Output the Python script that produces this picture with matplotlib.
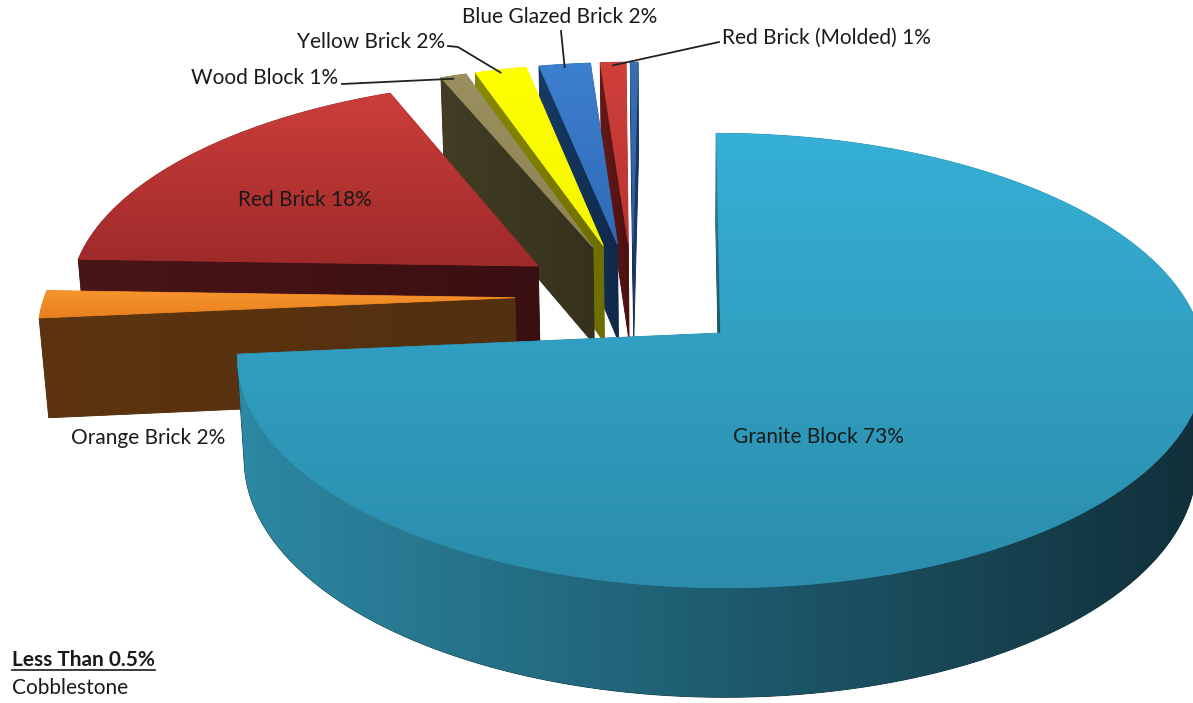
import numpy as np
import matplotlib.pyplot as plt
from matplotlib.patches import Polygon
from matplotlib.colors import to_rgb

# pie data, counter-clockwise from 12 o'clock
labels = ['Cobblestone', 'Red Brick (Molded)', 'Blue Glazed Brick', 'Yellow Brick',
          'Wood Block', 'Red Brick', 'Orange Brick', 'Granite Block']
values = [0.3, 1, 2, 2, 1, 18, 2, 73]
pct_text = ['', '1%', '2%', '2%', '1%', '18%', '2%', '73%']

# (top light, top dark), (side light, side dark)
top_colors = [('#3a6fb0', '#2f5f9e'), ('#d0403b', '#b8322f'), ('#3d7fcf', '#2f6bb7'),
              ('#ffff00', '#f5f500'), ('#9a905f', '#8c8254'), ('#cc3e3a', '#9e2a2a'),
              ('#f7952c', '#e8801f'), ('#36b0d6', '#2b8cab')]
side_colors = [('#1f3f6e', '#183258'), ('#661a18', '#4a1111'), ('#173a64', '#10294a'),
               ('#8a8a00', '#6e6e00'), ('#423d24', '#35311c'), ('#4a1517', '#3a0f11'),
               ('#5e3410', '#53300f'), ('#2c88a3', '#112f3a')]

# camera / geometry
W, H = 1193, 703
TILT = np.radians(27.8)
DIST = 7.3
FOCAL = 3504.0
CX, CY = 682.0, 333.0
DEPTH = 0.24
EXPLODE = 0.25
START = 90.0

fracs = np.array(values) / np.sum(values) * 360.0
bounds = START + np.concatenate([[0], np.cumsum(fracs)])
mids = (bounds[:-1] + bounds[1:]) / 2

def unit(deg):
    r = np.radians(deg)
    return np.array([np.cos(r), np.sin(r)])

# camera aims a little left of the granite apex
TX, TY = EXPLODE * unit(mids[-1]) + np.array([-0.08, 0.0])
CAM = np.array([TX, TY - DIST * np.cos(TILT), DIST * np.sin(TILT)])

def project(x, y, z):
    xr, yr = x - TX, y - TY
    v = yr * np.sin(TILT) + z * np.cos(TILT)
    w = DIST + yr * np.cos(TILT) - z * np.sin(TILT)
    return CX + FOCAL * xr / w, CY - FOCAL * v / w

def facing(p, normal):
    return np.dot(normal, CAM[:2] - p[:2]) > 0

fig = plt.figure(figsize=(W / 100, H / 100), dpi=100)
ax = fig.add_axes([0, 0, 1, 1])
ax.set_xlim(0, W)
ax.set_ylim(H, 0)
ax.axis('off')

zc = [1]

def grad_fill(pts, c1, c2, horizontal=False):
    pts = np.asarray(pts)
    base = Polygon(pts, closed=True, facecolor=c2, edgecolor=c2, lw=0.6, zorder=zc[0])
    ax.add_patch(base)
    g = np.linspace(0, 1, 128)
    a, b = np.array(to_rgb(c1)), np.array(to_rgb(c2))
    img = a[None, :] * (1 - g[:, None]) + b[None, :] * g[:, None]
    img = img[None, :, :] if horizontal else img[:, None, :]
    x0, x1 = pts[:, 0].min(), pts[:, 0].max()
    y0, y1 = pts[:, 1].min(), pts[:, 1].max()
    im = ax.imshow(img, extent=(x0, x1, y1, y0), aspect='auto', interpolation='bilinear',
                   zorder=zc[0] + 0.5)
    im.set_clip_path(base)
    zc[0] += 1

def slice_geometry(i):
    t1, t2 = bounds[i], bounds[i + 1]
    apex = EXPLODE * unit(mids[i])
    n = max(4, int((t2 - t1) / 1.5))
    th = np.linspace(t1, t2, n)
    arc = np.array([apex + unit(t) for t in th])
    return apex, th, arc

order = sorted(range(len(values)), key=lambda i: -(EXPLODE * unit(mids[i]))[1])
anchors = {}
for i in order:
    apex, th, arc = slice_geometry(i)
    t1, t2 = bounds[i], bounds[i + 1]
    tl, td = top_colors[i]
    sl, sd = side_colors[i]
    # radial walls
    for p_edge, nrm in [(arc[0], unit(t1 - 90)), (arc[-1], unit(t2 + 90))]:
        if facing((apex + p_edge) / 2, nrm):
            a_t = project(apex[0], apex[1], 0)
            p_t = project(p_edge[0], p_edge[1], 0)
            p_b = project(p_edge[0], p_edge[1], -DEPTH)
            a_b = project(apex[0], apex[1], -DEPTH)
            grad_fill([a_t, p_t, p_b, a_b], sl, sd, horizontal=True)
    # outer wall, only the part facing the camera
    vis = [facing(arc[k], unit(th[k])) for k in range(len(th))]
    runs, cur = [], []
    for k, ok in enumerate(vis):
        if ok:
            cur.append(k)
        elif cur:
            runs.append(cur)
            cur = []
    if cur:
        runs.append(cur)
    for run in runs:
        if len(run) < 2:
            continue
        top = [project(arc[k][0], arc[k][1], 0) for k in run]
        bot = [project(arc[k][0], arc[k][1], -DEPTH) for k in run[::-1]]
        grad_fill(top + bot, sl, sd, horizontal=True)
    # top face
    pts = [project(apex[0], apex[1], 0)] + [project(p[0], p[1], 0) for p in arc]
    grad_fill(pts, tl, td)
    mid_outer = apex + unit(mids[i])
    anchors[i] = project(mid_outer[0], mid_outer[1], 0)

font = 'Lato'
fs = 15
tcol = '#1a1a1a'

# in-slice labels
for i, (x, y) in [(5, (305, 200)), (7, (818, 437)), (6, (148, 438))]:
    ax.text(x, y, f'{labels[i]} {pct_text[i]}', ha='center', va='center',
            fontsize=fs, family=font, color=tcol, zorder=100)

# labels with leader lines
callouts = [(2, (560, 17), 'center', [(561, 31), None]),
            (3, (445, 42), 'right', [(448, 46), (458, 47), None]),
            (4, (338, 78), 'right', [(342, 84), None]),
            (1, (722, 38), 'left', [(719, 42), None])]
for i, (x, y), ha, path in callouts:
    ax.text(x, y, f'{labels[i]} {pct_text[i]}', ha=ha, va='center',
            fontsize=fs, family=font, color=tcol, zorder=100)
    ex, ey = anchors[i]
    path = [p if p is not None else (ex, ey + 3) for p in path]
    ax.plot([p[0] for p in path], [p[1] for p in path], color='#222222', lw=1.3, zorder=100)

ax.text(12, 660, 'Less Than 0.5%', ha='left', va='center', fontsize=fs,
        family=font, weight='bold', color=tcol, zorder=100)
ax.plot([12, 155], [670, 670], color=tcol, lw=1.2, zorder=100)
ax.text(12, 688, labels[0], ha='left', va='center', fontsize=fs,
        family=font, color=tcol, zorder=100)

fig.savefig('out.png', dpi=100, facecolor='white')
